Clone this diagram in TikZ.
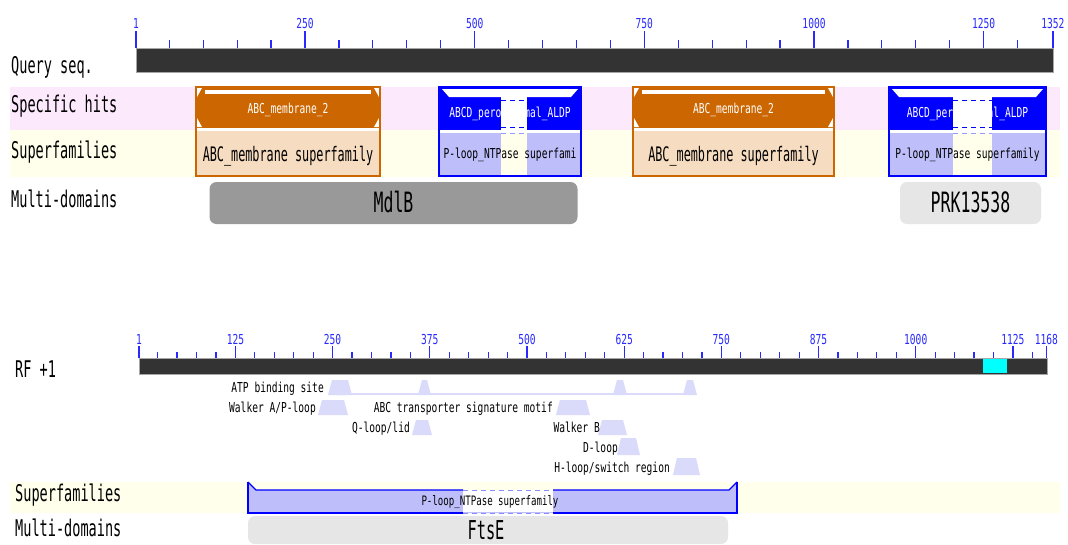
\documentclass[tikz,border=0pt]{standalone}
\usepackage{fontspec}
\newfontfamily\pfs[FakeStretch=0.70]{DejaVu Sans Mono}
\newfontfamily\pfl[FakeStretch=0.59]{DejaVu Sans Mono}
\definecolor{pinkband}{RGB}{252,234,252}
\definecolor{yelband}{RGB}{255,255,236}
\definecolor{orangeC}{RGB}{204,102,0}
\definecolor{peach}{RGB}{246,220,192}
\definecolor{blueC}{RGB}{0,0,255}
\definecolor{lav}{RGB}{190,190,250}
\definecolor{trapC}{RGB}{218,218,250}
\definecolor{rulerC}{RGB}{40,40,255}
\definecolor{barC}{RGB}{51,51,51}
\definecolor{mdgray}{RGB}{153,153,153}
\definecolor{mdlight}{RGB}{230,230,230}
\definecolor{cyanC}{RGB}{0,255,255}
\tikzset{
  rowlabel/.style={anchor=base west, inner sep=0pt, font={\pfl\fontsize{23}{23}\selectfont}},
  rulnum/.style={anchor=base, inner sep=0pt, text=rulerC, font={\pfs\fontsize{13.7}{14}\selectfont}},
  tickline/.style={draw=rulerC, line width=1.2pt},
  seqbar/.style={fill=barC, draw=black!35, line width=1pt},
  hitwhite/.style={anchor=base, inner sep=0pt, text=white, font={\pfs\fontsize{13.7}{14}\selectfont}},
  sfblack/.style={anchor=base, inner sep=0pt, text=black, font={\pfl\fontsize{20}{20}\selectfont}},
  smalltxt/.style={anchor=base, inner sep=0pt, font={\pfs\fontsize{13.7}{14}\selectfont}},
  mdbox/.style={rounded corners=7pt, inner sep=0pt},
  mdtext/.style={anchor=base, inner sep=0pt, font={\pfl\fontsize{28}{28}\selectfont}},
  featlabel/.style={anchor=base east, inner sep=0pt, font={\pfs\fontsize{13.7}{14}\selectfont}},
  trap/.style={fill=trapC, draw=none}
}
\newcommand\trapz[4]{\fill[trap] (#1,#4) -- ({#1+4},#3) -- ({#2-4},#3) -- (#2,#4) -- cycle;}
\begin{document}
\begin{tikzpicture}[x=1pt,y=-1pt]
\useasboundingbox (0,0) rectangle (1068,544);
\fill[white] (0,0) rectangle (1068,544);
% ---------------- top section ----------------
\fill[pinkband] (10,87) rectangle (1060,130);
\fill[yelband] (10,130) rectangle (1060,177);
\node[rowlabel] (lq) at (11,73) {Query seq.};
\node[rowlabel] (ls) at (11,112) {Specific hits};
\node[rowlabel] (lsf) at (11,158) {Superfamilies};
\node[rowlabel] (lmd) at (11,207) {Multi-domains};
% ruler
\foreach \p in {50,100,...,1300} {
  \pgfmathsetmacro\xx{136+(\p-1)*0.6787}
  \draw[tickline] (\xx,40) -- (\xx,48);
}
\foreach \p in {1,250,500,750,1000,1250,1352} {
  \pgfmathsetmacro\xx{136+(\p-1)*0.6787}
  \draw[tickline] (\xx,31) -- (\xx,48);
  \node[rulnum] (t\p) at (\xx,28) {\p};
}
\draw[seqbar] (136,48) rectangle (1053,72);
% orange hits
\foreach \l/\r/\n in {196/380/a,633/834/b} {
  \fill[orangeC] (\l,87) rectangle (\r,128);
  \fill[white] ({\l+9},90) rectangle ({\r-9},94);
  \fill[white] ({\l+1},88) -- ({\l+6},88) -- ({\l+1},97) -- cycle;
  \fill[white] ({\l+1},127) -- ({\l+6},127) -- ({\l+1},118) -- cycle;
  \fill[white] ({\r-1},88) -- ({\r-6},88) -- ({\r-1},97) -- cycle;
  \fill[white] ({\r-1},127) -- ({\r-6},127) -- ({\r-1},118) -- cycle;
  \fill[white] (\l,128) rectangle (\r,131);
  \fill[peach] (\l,131) rectangle (\r,176);
  \draw[orangeC, line width=1.2pt] (\l,87) rectangle (\r,176);
  \node[hitwhite] (h\n) at ({(\l+\r)/2},113) {ABC\_membrane\_2};
  \node[sfblack] (s\n) at ({(\l+\r)/2},161) {ABC\_membrane superfamily};
}
% blue hits
\foreach \l/\r/\gl/\gr/\n/\t in {439/581/501/527/a/{P-loop\_NTPase superfami},889/1046/953/992/b/{P-loop\_NTPase superfamily}} {
  \fill[blueC] (\l,87) rectangle (\r,130);
  \fill[white] ({\l+3},89) -- ({\r-3},89) -- ({\r-10},97) -- ({\l+10},97) -- cycle;
  \fill[white] (\gl,97) rectangle (\gr,130);
  \draw[blueC, dash pattern=on 5pt off 4pt, line width=1pt] (\gl,100) -- (\gr,100);
  \draw[blueC, dash pattern=on 5pt off 4pt, line width=1pt] (\gl,127) -- (\gr,127);
  \fill[white] (\l,130) rectangle (\r,133);
  \fill[lav] (\l,133) rectangle (\gl,176);
  \fill[lav] (\gr,133) rectangle (\r,176);
  \draw[blueC!40, dash pattern=on 5pt off 4pt, line width=1pt] (\gl,133) -- (\gr,133);
  \draw[blueC, line width=1.2pt] (\l,87) rectangle (\r,176);
  \node[smalltxt, text=white] (b\n) at ({(\l+\r)/2},117) {ABCD\_peroxisomal\_ALDP};
  \node[smalltxt] (p\n) at ({(\l+\r)/2},158) {\t};
}
\node[mdbox, fill=mdgray, minimum width=368pt, minimum height=42pt] (mdlb) at (393.5,203) {};
\node[mdtext] (mdlbt) at (393.5,212) {MdlB};
\node[mdbox, fill=mdlight, minimum width=141pt, minimum height=42pt] (prk) at (970.5,203) {};
\node[mdtext] (prkt) at (970.5,212) {PRK13538};
% ---------------- lower section ----------------
\node[rowlabel] (rf) at (15,377) {RF +1};
\foreach \p in {25,50,...,1150} {
  \pgfmathsetmacro\xx{139+(\p-1)*0.7775}
  \draw[tickline] (\xx,352) -- (\xx,358);
}
\foreach \p in {1,125,250,375,500,625,750,875,1000,1125,1168} {
  \pgfmathsetmacro\xx{139+(\p-1)*0.7775}
  \draw[tickline] (\xx,346) -- (\xx,358);
  \node[rulnum] (u\p) at (\xx,344) {\p};
}
\draw[seqbar] (139,358) rectangle (1047,374);
\fill[cyanC] (983,359) rectangle (1007,373);
% features
\draw[trapC, line width=1.5pt] (350,394) -- (686,394);
\trapz{328}{347}{380}{395}
\trapz{336}{352}{380}{395}
\trapz{418}{431}{380}{395}
\trapz{613}{627}{380}{395}
\trapz{683}{697}{380}{395}
\node[featlabel] (fatp) at (324,392) {ATP binding site};
\trapz{318}{348}{400}{415}
\node[featlabel] (fwa) at (316,412) {Walker A/P-loop};
\trapz{556}{590}{400}{415}
\node[featlabel] (fabc) at (553,412) {ABC transporter signature motif};
\trapz{412}{432}{420}{435}
\node[featlabel] (fq) at (410,432) {Q-loop/lid};
\trapz{598}{627}{420}{435}
\node[featlabel] (fwb) at (600,432) {Walker B};
\trapz{617}{640}{438}{455}
\node[featlabel] (fd) at (618,452) {D-loop};
\trapz{673}{700}{458}{475}
\node[featlabel] (fh) at (670,472) {H-loop/switch region};
% superfamily
\fill[yelband] (10,482) rectangle (1060,513);
\node[rowlabel] (lsf2) at (15,501) {Superfamilies};
\node[rowlabel] (lmd2) at (15,536) {Multi-domains};
\fill[lav] (248,482) -- (256,490) -- (729,490) -- (737,482) -- (737,513) -- (248,513) -- cycle;
\fill[white] (463,490) rectangle (553,512);
\draw[blueC, line width=1.2pt] (248,482) -- (248,513) -- (463,513);
\draw[blueC, line width=1.2pt] (553,513) -- (737,513) -- (737,482);
\draw[blueC, line width=1.2pt] (248,482) -- (256,490) -- (463,490);
\draw[blueC, line width=1.2pt] (553,490) -- (729,490) -- (737,482);
\draw[blueC!45, dash pattern=on 5pt off 4pt, line width=1pt] (463,490) -- (553,490);
\draw[blueC!45, dash pattern=on 5pt off 4pt, line width=1pt] (463,513) -- (553,513);
\node[smalltxt, font={\pfs\fontsize{13}{13}\selectfont}] (psf) at (490,505) {P-loop\_NTPase superfamily};
\node[mdbox, fill=mdlight, minimum width=480pt, minimum height=28pt] (ftse) at (488,530) {};
\node[mdtext, font={\pfl\fontsize{26}{26}\selectfont}] (ftset) at (486,539) {FtsE};
\end{tikzpicture}
\end{document}
